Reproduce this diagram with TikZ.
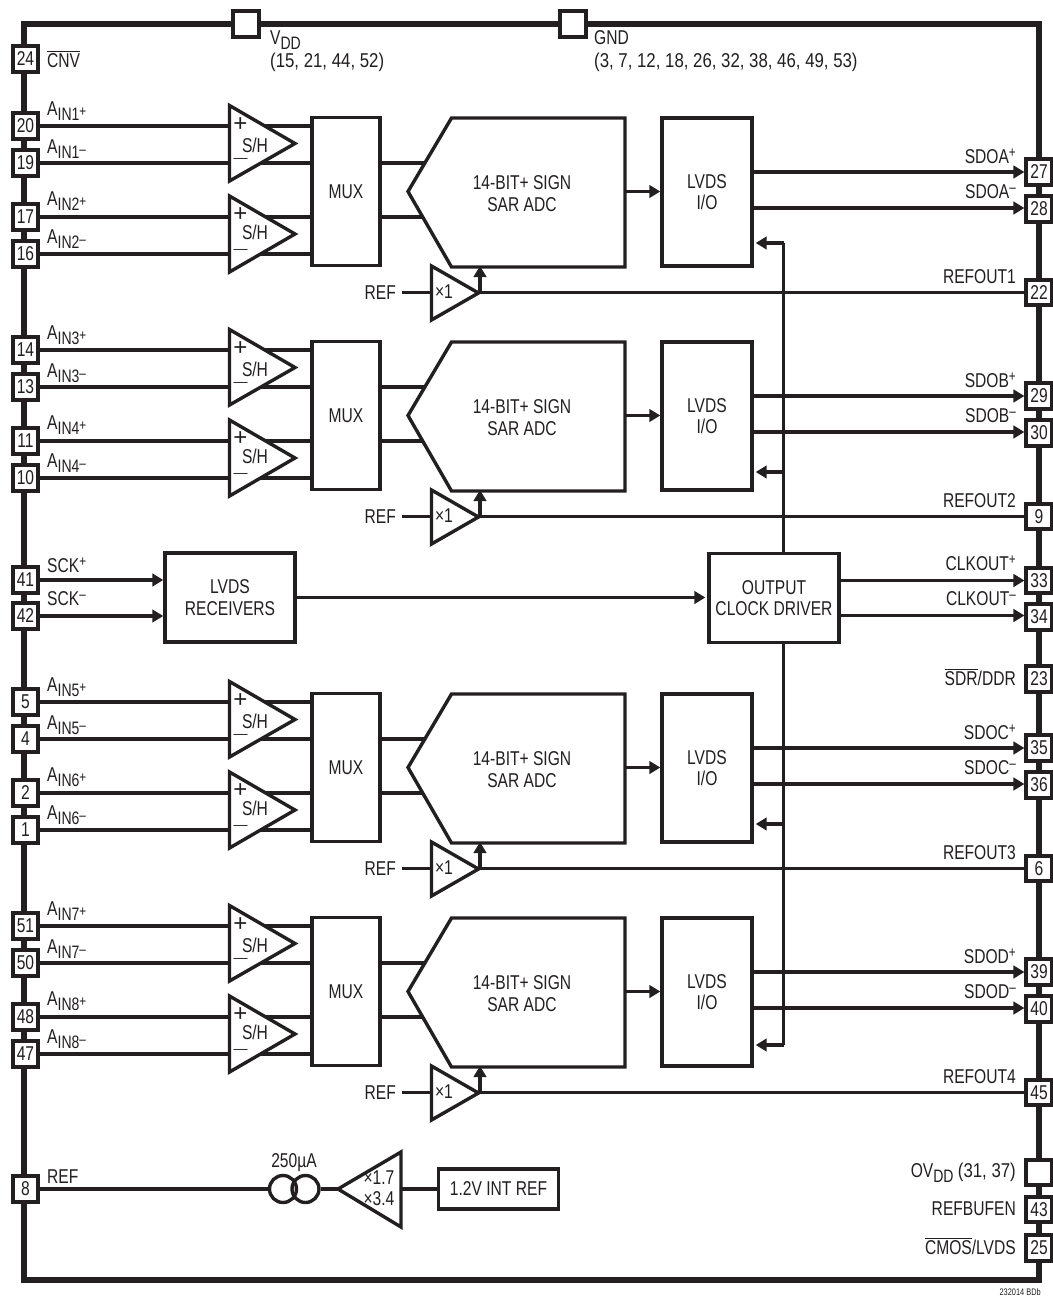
\documentclass[tikz,border=0pt]{standalone}
\usepackage{fontspec}
\setmainfont[FakeStretch=0.78]{Liberation Sans}
\newfontfamily\widefont[FakeStretch=0.84]{Liberation Sans}
\newfontfamily\signfont{Liberation Sans}
\usetikzlibrary{arrows.meta,backgrounds,calc}
\definecolor{ink}{HTML}{231F20}
\newcommand{\txtsize}{\fontsize{20}{21.5}\selectfont}
\newcommand{\subsz}{\fontsize{18}{18}\selectfont}
\newcommand{\supsz}{\fontsize{15}{15}\selectfont}
\newcommand{\ainlab}[2]{A\raisebox{-5pt}{\subsz IN#1}\raisebox{-1pt}{\supsz #2}}
\newcommand{\suplab}[1]{\raisebox{6pt}{\supsz #1}}
\newcommand{\subdd}{\raisebox{-5pt}{\fontsize{18}{18}\selectfont DD}}
\newcommand{\barred}[1]{$\overline{\hbox{#1}}$}
\newcommand{\plussign}{{\signfont\fontsize{24}{24}\selectfont +}}
\newcommand{\minussign}{{\signfont\fontsize{14}{14}\selectfont —}}
\tikzset{
  every node/.style={font=\txtsize,text=ink},
  wire/.style={draw=ink,line width=3.4pt},
  arrowwire/.style={wire,-{Triangle[length=11pt,width=12.5pt]}},
  framewire/.style={draw=ink,line width=5.5pt,line join=miter},
  pin/.style={draw=ink,fill=white,line width=3.6pt,minimum size=25.5pt,inner sep=0pt},
  block/.style={draw=ink,fill=white,line width=3.4pt,inner sep=0pt,align=center},
  tri/.style={draw=ink,fill=white,line width=3.4pt,line join=miter},
  lab/.style={inner sep=0pt,anchor=base west},
  rlab/.style={inner sep=0pt,anchor=base east},
  plain/.style={inner sep=0pt,align=center},
}
\begin{document}
\begin{tikzpicture}[x=1pt,y=-1pt]
\useasboundingbox (0,0) rectangle (1052,1298);
% frame
\coordinate (fTL) at (24,24); \coordinate (fTR) at (1039,24);
\coordinate (fBR) at (1039,1280); \coordinate (fBL) at (24,1280);
\begin{pgfonlayer}{background}
\fill[white] (0,0) rectangle (1052,1298);
\draw[framewire] (fTL) -- (fTR) -- (fBR) -- (fBL) -- cycle;
\end{pgfonlayer}
% supply pins
\node[pin] (pVDD) at (246,24) {};
\node[pin] (pGND) at (573,24) {};
\node[lab] (lVDD) at (270,45) {V\subdd};
\node[lab] (lVDDn) at (270,67) {\widefont (15, 21, 44, 52)};
\node[lab] (lGND) at (594,45) {GND};
\node[lab] (lGNDn) at (594,67) {\widefont (3, 7, 12, 18, 26, 32, 38, 46, 49, 53)};
\node[pin] (p24) at (25.5,59) {24};
\node[lab] (l24) at (47,67) {\barred{CNV}};
% clock section
\node[pin] (p41) at (25.5,580) {41};
\node[pin] (p42) at (25.5,616) {42};
\node[lab] (l41) at (47,572) {SCK\suplab{+}};
\node[lab] (l42) at (47,605) {SCK\suplab{--}};
\node[block,minimum width=130pt,minimum height=89pt] (rcv) at (230,597.5) {LVDS\\RECEIVERS};
\node[block,minimum width=130pt,minimum height=89pt] (drv) at (774,598) {OUTPUT\\CLOCK DRIVER};
\node[pin] (p33) at (1039,580.5) {33};
\node[pin] (p34) at (1039,617) {34};
\node[rlab] (l33) at (1016,570) {CLKOUT\suplab{+}};
\node[rlab] (l34) at (1016,605) {CLKOUT\suplab{--}};
\node[pin] (p23) at (1039,679) {23};
\node[rlab] (l23) at (1016,685) {\barred{SDR}/DDR};
\coordinate (busN) at (783.5,553);
\coordinate (busS) at (783.5,643);
\begin{pgfonlayer}{background}
\draw[arrowwire] (p41.east) -- (rcv.west |- p41.east);
\draw[arrowwire] (p42.east) -- (rcv.west |- p42.east);
\draw[arrowwire,shorten >=2pt] (rcv.east) -- (drv.west |- rcv.east);
\draw[arrowwire] (drv.east |- p33.west) -- (p33.west);
\draw[arrowwire] (drv.east |- 0,615.5) -- (p34.west |- 0,615.5);
\end{pgfonlayer}
% four channels
\foreach \L/\off/\pa/\pb/\pc/\pd/\ia/\ib/\so/\sm/\rp/\rn/\clk in {
  A/0/20/19/17/16/1/2/27/28/22/1/243,
  B/224/14/13/11/10/3/4/29/30/9/2/472,
  C/576/5/4/2/1/5/6/35/36/6/3/824,
  D/800/51/50/48/47/7/8/39/40/45/4/1045}{
 \begin{scope}[shift={(0,\off)}]
  \node[pin] (pin\pa\L) at (25.5,126) {\pa};
  \node[pin] (pin\pb\L) at (25.5,163) {\pb};
  \node[pin] (pin\pc\L) at (25.5,217) {\pc};
  \node[pin] (pin\pd\L) at (25.5,254) {\pd};
  \node[lab] (la\L) at (47,115) {\ainlab{\ia}{+}};
  \node[lab] (lb\L) at (47,153) {\ainlab{\ia}{--}};
  \node[lab] (lc\L) at (47,205) {\ainlab{\ib}{+}};
  \node[lab] (ld\L) at (47,243) {\ainlab{\ib}{--}};
  % S/H
  \draw[tri] (229.5,105.5) -- (295,143.5) -- (229.5,181) -- cycle;
  \draw[tri] (229.5,196) -- (295,234) -- (229.5,272) -- cycle;
  \node[plain] (sa\L) at (255,145) {S/H};
  \node[plain] (sb\L) at (255,232.5) {S/H};
  \node[plain] (pa\L) at (240.5,125) {\plussign};
  \node[plain] (ma\L) at (240.5,160) {\minussign};
  \node[plain] (pb\L) at (240.5,215) {\plussign};
  \node[plain] (mb\L) at (240.5,251) {\minussign};
  % MUX, ADC, LVDS
  \node[block,minimum width=68pt,minimum height=148pt] (mux\L) at (346,191.5) {MUX};
  \draw[tri] (408,191.5) -- (451.5,118) -- (625,118) -- (625,267) -- (451.5,267) -- cycle;
  \node[plain] (adc\L) at (522,193.5) {14-BIT+ SIGN\\SAR ADC};
  \coordinate (adcA\L) at (424,163);
  \coordinate (adcB\L) at (424,217);
  \coordinate (adcO\L) at (625,191.5);
  \node[block,minimum width=90pt,minimum height=148pt] (io\L) at (707,192) {LVDS\\I/O};
  % output pins
  \node[pin] (pin\so\L) at (1039,172) {\so};
  \node[pin] (pin\sm\L) at (1039,209) {\sm};
  \node[pin] (pin\rp\L) at (1039,292.5) {\rp};
  \node[rlab] (lo\L) at (1016,163) {SDO\L\suplab{+}};
  \node[rlab] (lm\L) at (1016,198) {SDO\L\suplab{--}};
  \node[rlab] (lr\L) at (1016,283) {REFOUT\rn};
  % x1 buffer
  \draw[tri] (431.5,266) -- (478.5,293) -- (431.5,320) -- cycle;
  \coordinate (bufO\L) at (478.5,292.5);
  \coordinate (bufI\L) at (431.5,292.5);
  \coordinate (bufU\L) at (480,266);
  \node[plain] (xo\L) at (444,292) {×1};
  \node[plain,anchor=base east] (ref\L) at (396,299) {REF};
  \begin{pgfonlayer}{background}
   \draw[wire] (pin\pa\L.east) -- (mux\L.west |- pin\pa\L.east);
   \draw[wire] (pin\pb\L.east) -- (mux\L.west |- pin\pb\L.east);
   \draw[wire] (pin\pc\L.east) -- (mux\L.west |- pin\pc\L.east);
   \draw[wire] (pin\pd\L.east) -- (mux\L.west |- pin\pd\L.east);
   \draw[wire] (mux\L.east |- adcA\L) -- (adcA\L);
   \draw[wire] (mux\L.east |- adcB\L) -- (adcB\L);
   \draw[arrowwire] (adcO\L) -- (io\L.west |- adcO\L);
   \draw[arrowwire] (io\L.east |- pin\so\L.west) -- (pin\so\L.west);
   \draw[arrowwire] (io\L.east |- 0,208) -- (pin\sm\L.west |- 0,208);
   \draw[wire] (bufO\L) -- (pin\rp\L.west);
   \draw[arrowwire] (bufU\L |- bufO\L) -- (bufU\L);
   \draw[wire] (ref\L.east |- bufI\L) ++(6,0) -- (bufI\L);
  \end{pgfonlayer}
 \end{scope}
}
% clock bus
\foreach \L/\yy in {A/243,B/472,C/824,D/1045}{
  \coordinate (tap\L) at (783.5,\yy);
}
\begin{pgfonlayer}{background}
\draw[wire] (busN) -- (tapA);
\draw[wire] (busS) -- (tapD);
\foreach \L in {A,B,C,D}{
  \draw[arrowwire,shorten >=2pt] (tap\L) -- (io\L.east |- tap\L);
}
\end{pgfonlayer}
% reference section
\node[pin] (p8) at (25.5,1189) {8};
\node[lab] (l8) at (47,1183) {REF};
\node[draw=ink,fill=white,line width=3.4pt,circle,minimum size=27pt,inner sep=0pt] (csA) at (283,1189) {};
\node[draw=ink,line width=3.4pt,circle,minimum size=27pt,inner sep=0pt] (csB) at (305.5,1189) {};
\node[plain,anchor=base] (lcs) at (294,1167) {250µA};
\draw[tri] (338,1189) -- (401,1152) -- (401,1227) -- cycle;
\coordinate (ampO) at (338,1189);
\coordinate (ampI) at (401,1189);
\node[plain] (xa) at (379,1178) {×1.7};
\node[plain] (xb) at (379,1199) {×3.4};
\node[block,minimum width=120pt,minimum height=40pt] (iref) at (498.5,1189) {1.2V INT REF};
\begin{pgfonlayer}{background}
\draw[wire] (p8.east) -- (csA.west);
\draw[wire] (csB.east) -- (ampO);
\draw[wire] (ampI) -- (iref.west);
\end{pgfonlayer}
% lower right pins
\node[pin] (pOV) at (1039,1172.5) {};
\node[pin] (p43) at (1039,1209.5) {43};
\node[pin] (p25) at (1039,1248) {25};
\node[rlab] (lov) at (1016,1177) {OV\subdd{} \widefont (31, 37)};
\node[rlab] (l43) at (1016,1215) {REFBUFEN};
\node[rlab] (l25) at (1016,1254) {\barred{CMOS}/LVDS};
\node[rlab,font=\fontsize{9.5}{10}\selectfont] (lid) at (1041,1295) {232014 BDb};
\end{tikzpicture}
\end{document}
